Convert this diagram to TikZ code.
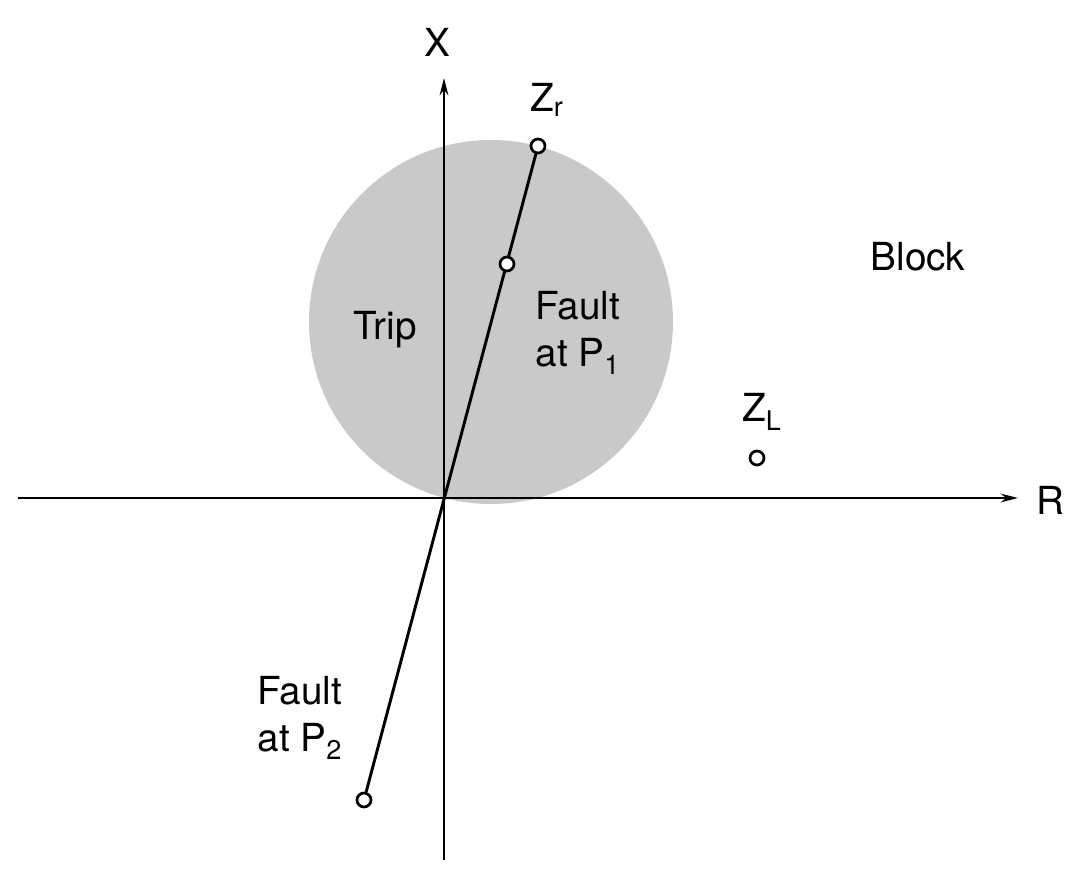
\documentclass[tikz,border=0pt]{standalone}
\usepackage{fontspec}
\setmainfont{TeX Gyre Heros}
\usetikzlibrary{arrows.meta}
\begin{document}
\begin{tikzpicture}[x=0.75pt,y=0.75pt,
  font=\fontsize{29}{35}\selectfont,
  axis/.style={line width=1.5pt, -{Stealth[length=13pt,width=6.5pt]}},
  pt/.style={circle, draw, line width=2pt, fill=white, inner sep=0pt, minimum size=10.5pt}]
\useasboundingbox (-444,-372) rectangle (645,498);
% trip zone
\fill[black!21] (47,176) circle (182);
% axes
\coordinate (rl) at (-426,0);
\coordinate (rr) at (574,0);
\coordinate (xb) at (0,-362);
\coordinate (xt) at (0,420);
\draw[axis] (rl) -- (rr);
\draw[axis] (xb) -- (xt);
\node (xlab) at (-7,456) {X};
\node (rlab) at (606,-2) {R};
% impedance points
\node[pt] (zr) at (94,352) {};
\node[pt] (p2) at (-80,-302) {};
\draw[line width=2.2pt] (p2) -- (zr);
\node[pt] (p1) at (63,234) {};
\node[pt] (zl) at (313,40) {};
% labels
\node (zrlab) at (103,398) {Z\textsubscript{r}};
\node (zllab) at (318,86) {Z\textsubscript{L}};
\node (block) at (474,241) {Block};
\node (trip) at (-59,168) {Trip};
\node[align=left] (f1) at (134,165) {Fault\\at P\textsubscript{1}};
\node[align=left] (f2) at (-144,-220) {Fault\\at P\textsubscript{2}};
\end{tikzpicture}
\end{document}
